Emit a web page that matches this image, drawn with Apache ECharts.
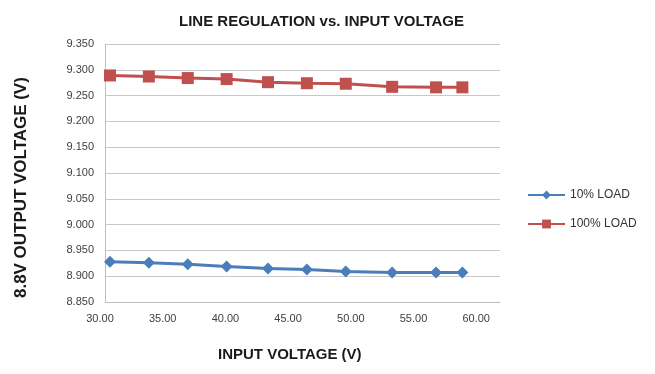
<!DOCTYPE html>
<html>
<head>
<meta charset="utf-8">
<script src="https://cdn.jsdelivr.net/npm/echarts@6/dist/echarts.min.js"></script>
<style>
html,body{margin:0;padding:0;background:#fff;}
#c{width:655px;height:374px;}
</style>
</head>
<body>
<div id="c"></div>
<script>
var inputVoltage = [30.4, 33.5, 36.6, 39.7, 43.0, 46.1, 49.2, 52.9, 56.4, 58.5];
var load10 = [8.928, 8.926, 8.923, 8.919, 8.915, 8.913, 8.909, 8.907, 8.907, 8.907];
var load100 = [9.289, 9.287, 9.284, 9.282, 9.276, 9.274, 9.273, 9.267, 9.266, 9.266];
var seriesNames = ['10% LOAD', '100% LOAD'];
var titleText = 'LINE REGULATION vs. INPUT VOLTAGE';
var xTitle = 'INPUT VOLTAGE (V)';
var yTitle = '8.8V OUTPUT VOLTAGE (V)';

function pairs(xs, ys) { return xs.map(function (x, i) { return [x, ys[i]]; }); }

var chart = echarts.init(document.getElementById('c'), null, {renderer: 'canvas'});
var font = 'Liberation Sans, Arial, sans-serif';
chart.setOption({
  animation: false,
  backgroundColor: '#ffffff',
  title: {
    text: titleText, left: 174, top: 9,
    textStyle: {fontFamily: font, fontSize: 15, fontWeight: 'bold', color: '#1a1a1a'}
  },
  grid: {left: 105, right: 155, top: 44, bottom: 72},
  legend: {
    orient: 'vertical', left: 522, top: 184, itemGap: 17,
    itemWidth: 37, itemHeight: 11,
    textStyle: {fontFamily: font, fontSize: 12, color: '#333'},
    data: seriesNames
  },
  xAxis: {
    type: 'value', min: 30, max: 61.5, interval: 5,
    axisLine: {show: true, lineStyle: {color: '#bfbfbf', width: 1}},
    axisTick: {show: false},
    splitLine: {show: false},
    axisLabel: {
      showMaxLabel: false, margin: 11, padding: [0, 10, 0, 0],
      fontFamily: font, fontSize: 11, color: '#404040',
      formatter: function (v) { return v.toFixed(2); }
    }
  },
  yAxis: {
    type: 'value', min: 8.85, max: 9.35, interval: 0.05,
    axisLine: {show: true, lineStyle: {color: '#bfbfbf', width: 1}},
    axisTick: {show: false},
    splitLine: {show: true, lineStyle: {color: '#c8c8c8', width: 1}},
    axisLabel: {
      margin: 11, fontFamily: font, fontSize: 11, color: '#404040',
      formatter: function (v) { return v.toFixed(3); }
    }
  },
  graphic: [
    {type: 'text', left: 218, top: 347,
     style: {text: xTitle, font: 'bold 15px ' + font, fill: '#1a1a1a'}},
    {type: 'text', x: 14, y: 298, rotation: Math.PI / 2,
     style: {text: yTitle, font: 'bold 16px ' + font, fill: '#1a1a1a'}, scaleX: 1.06}
  ],
  series: [
    {
      name: seriesNames[0], type: 'line', data: pairs(inputVoltage, load10),
      symbol: 'diamond', symbolSize: 12,
      lineStyle: {color: '#4A7EBB', width: 3},
      itemStyle: {color: '#4A7EBB'}
    },
    {
      name: seriesNames[1], type: 'line', data: pairs(inputVoltage, load100),
      symbol: 'rect', symbolSize: 12,
      lineStyle: {color: '#C0504D', width: 3},
      itemStyle: {color: '#C0504D'}
    }
  ]
});
</script>
</body>
</html>
